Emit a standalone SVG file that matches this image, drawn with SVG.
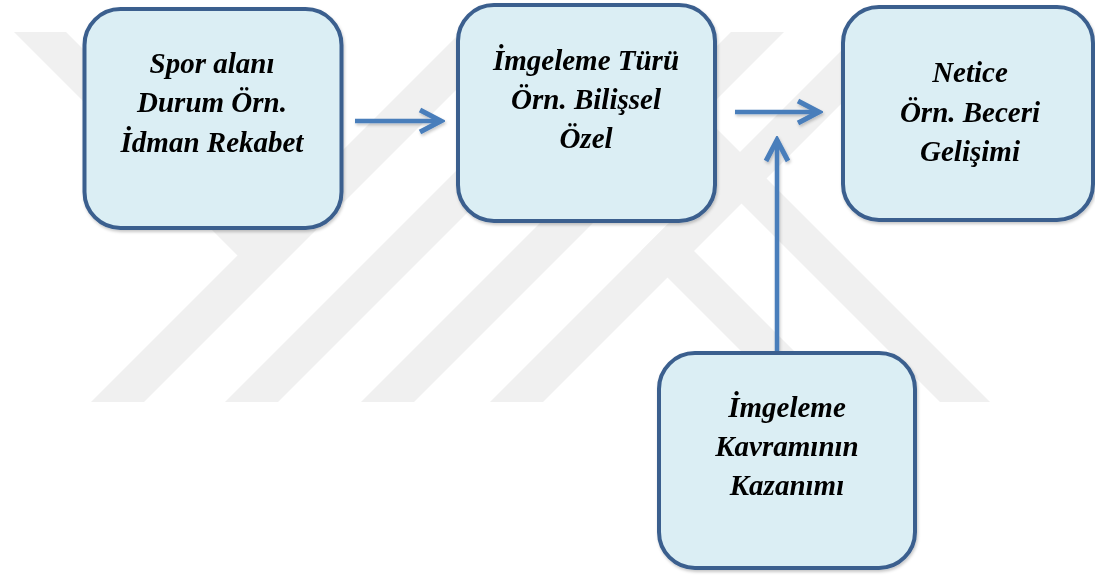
<svg xmlns="http://www.w3.org/2000/svg" width="1095" height="575" viewBox="0 0 1095 575">
  <defs>
    <style>
      .wm { fill: #f0f0f0; }
      .node rect { fill: #dbeef4; stroke: #3a5f8e; stroke-width: 4; }
      .node text { font-family: "Liberation Serif", "Times New Roman", serif; font-weight: bold; font-style: italic; font-size: 29px; fill: #000; text-anchor: middle; }
      .conn { stroke: #4a7ebb; stroke-width: 4.5; fill: none; }
    </style>
    <marker id="chev" markerUnits="userSpaceOnUse" markerWidth="30" markerHeight="30" viewBox="-26 -15 30 30" refX="0" refY="0" orient="auto">
      <path d="M-21,-11 L0,0 L-21,11" fill="none" stroke="#4a7ebb" stroke-width="5" stroke-linejoin="miter" stroke-linecap="butt"/>
    </marker>
    <filter id="sh" x="-20%" y="-20%" width="140%" height="160%">
      <feDropShadow dx="1" dy="2" stdDeviation="1.5" flood-color="#000" flood-opacity="0.22"/>
    </filter>
  </defs>
  <rect width="1095" height="575" fill="#ffffff"/>
  <g id="watermark">
    <polygon class="wm" points="461,32 514,32 144,402 91,402"/>
    <polygon class="wm" points="595,32 648,32 278,402 225,402"/>
    <polygon class="wm" points="731,32 784,32 414,402 361,402"/>
    <polygon class="wm" points="860,32 913,32 543,402 490,402"/>
    <polygon class="wm" points="14,32 66,32 290,256 237.5,255.5"/>
    <polygon class="wm" points="641,251 667.5,224.5 845,402 792,402"/>
    <polygon class="wm" points="570,32 620,32 990,402 940,402"/>
  </g>
  <g id="connectors" filter="url(#sh)">
    <line class="conn" x1="355" y1="121" x2="441" y2="121" marker-end="url(#chev)"/>
    <line class="conn" x1="735" y1="112" x2="819" y2="112" marker-end="url(#chev)"/>
    <line class="conn" x1="777" y1="353" x2="777" y2="140" marker-end="url(#chev)"/>
  </g>
  <g id="node-spor" class="node" filter="url(#sh)">
    <rect x="84.5" y="9" width="257" height="219" rx="36"/>
    <text x="212" y="73">Spor alanı</text>
    <text x="212" y="112">Durum Örn.</text>
    <text x="212" y="152">İdman Rekabet</text>
  </g>
  <g id="node-imgeleme-turu" class="node" filter="url(#sh)">
    <rect x="458" y="5" width="257" height="216" rx="36"/>
    <text x="586" y="70">İmgeleme Türü</text>
    <text x="586" y="109">Örn. Bilişsel</text>
    <text x="586" y="148">Özel</text>
  </g>
  <g id="node-netice" class="node" filter="url(#sh)">
    <rect x="843" y="7" width="250" height="213" rx="36"/>
    <text x="970" y="82">Netice</text>
    <text x="970" y="122">Örn. Beceri</text>
    <text x="970" y="161">Gelişimi</text>
  </g>
  <g id="node-kazanim" class="node" filter="url(#sh)">
    <rect x="659" y="353" width="256" height="215" rx="36"/>
    <text x="787" y="417">İmgeleme</text>
    <text x="787" y="456">Kavramının</text>
    <text x="787" y="495">Kazanımı</text>
  </g>
</svg>
